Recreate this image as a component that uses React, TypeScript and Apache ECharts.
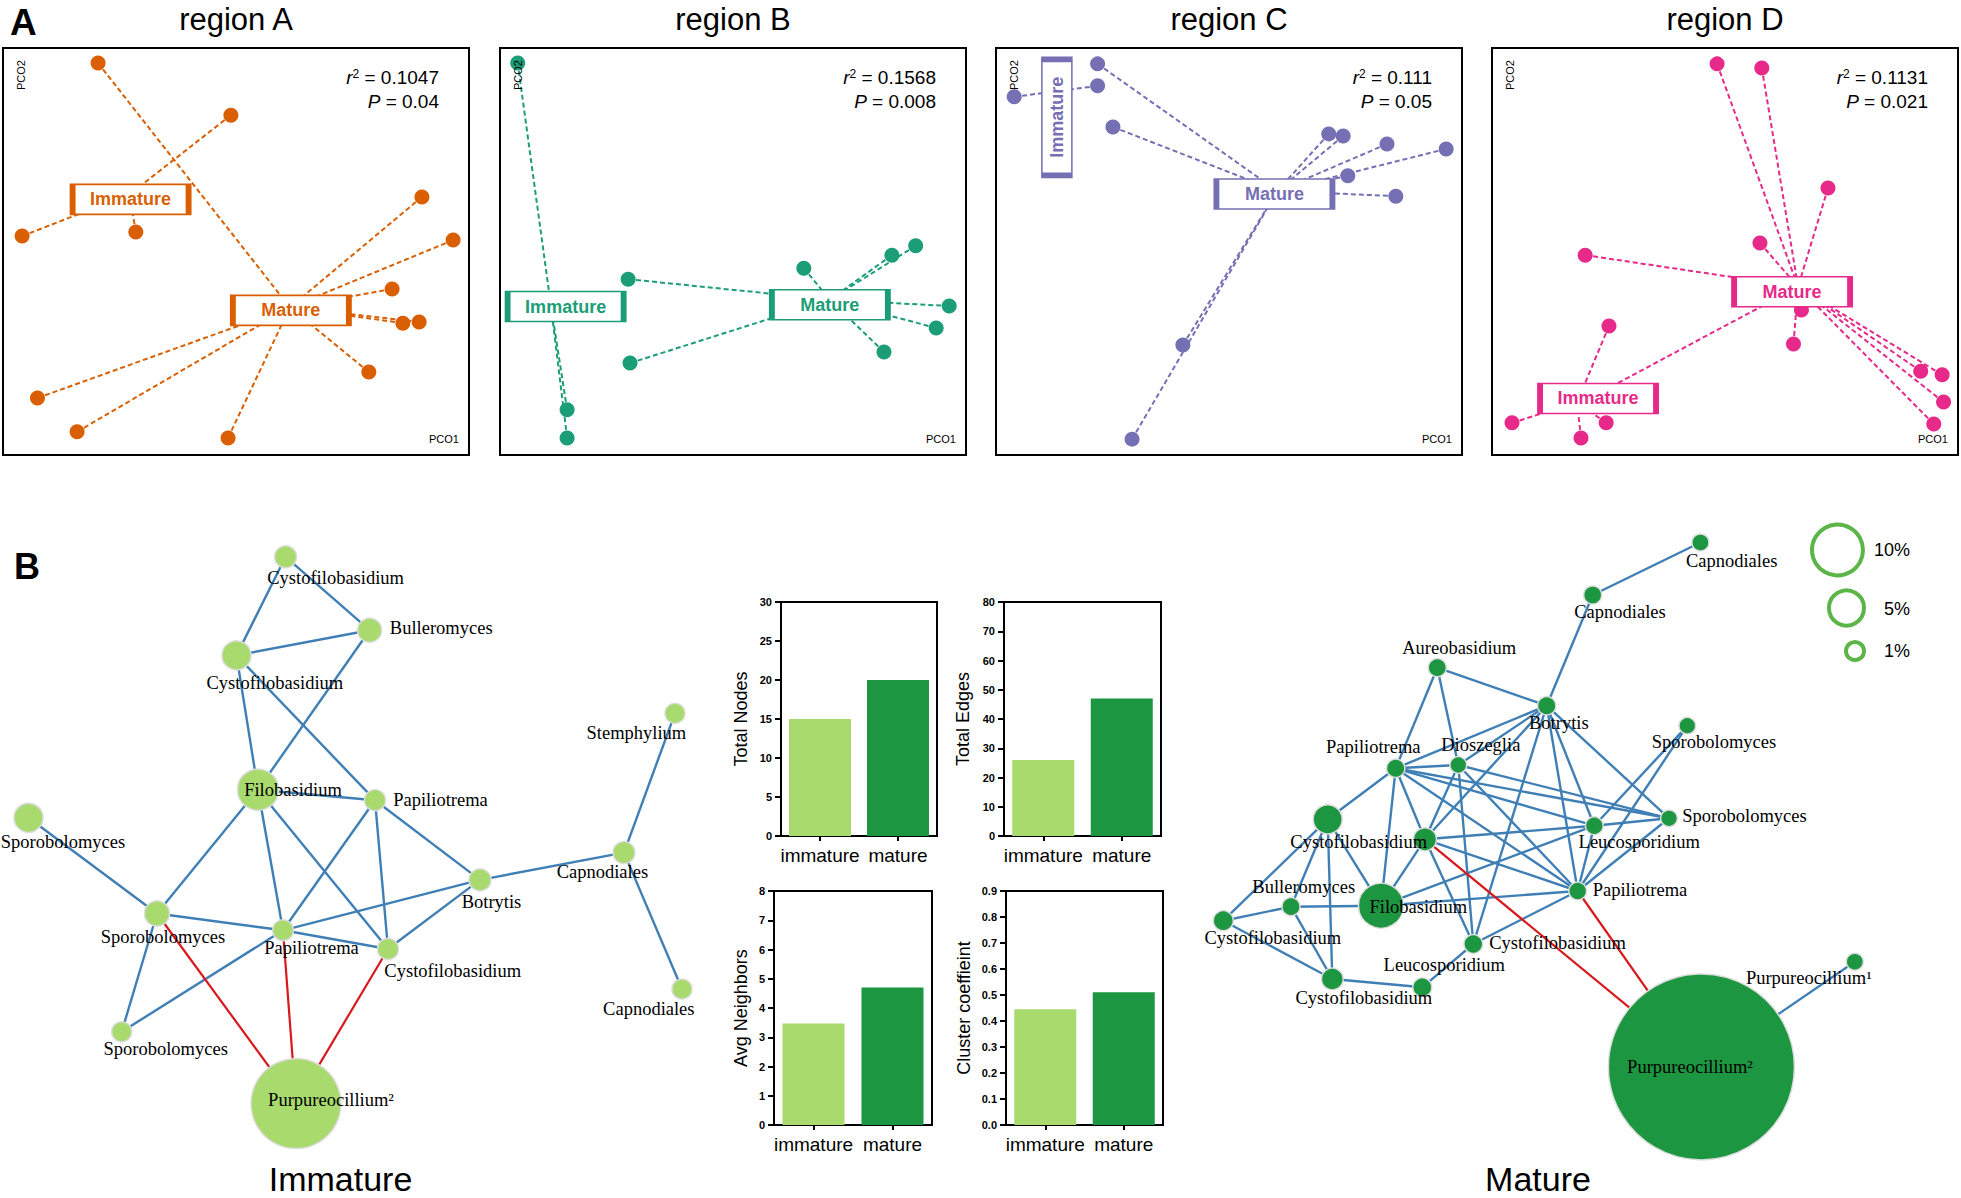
import React, { useEffect, useRef } from "react";
import * as echarts from "echarts";

// ---------------- DATA ----------------
// Panel A: PCoA scores [PCO1, PCO2]
const regionTitles = ["region A", "region B", "region C", "region D"];
const regionR2 = ["0.1047", "0.1568", "0.111", "0.1131"];
const regionP = ["0.04", "0.008", "0.05", "0.021"];

const regionAImmature = [[-0.011, 0.335], [-0.459, 0.038], [-0.215, 0.048]];
const regionAMature = [[-0.296, 0.463], [0.399, 0.134], [0.466, 0.028], [0.335, -0.092], [0.358, -0.176], [0.393, -0.173], [0.285, -0.296], [-0.426, -0.36], [-0.341, -0.443], [-0.017, -0.458]];
const regionBImmature = [[-0.462, 0.463], [-0.356, -0.389], [-0.356, -0.458]];
const regionBMature = [[0.392, 0.014], [0.341, -0.009], [0.152, -0.041], [-0.225, -0.068], [0.464, -0.134], [0.436, -0.188], [0.324, -0.247], [-0.221, -0.274]];
const regionCImmature = [[-0.282, 0.407], [-0.461, 0.38]];
const regionCMature = [[-0.282, 0.461], [-0.249, 0.306], [0.214, 0.289], [0.245, 0.284], [0.339, 0.264], [0.466, 0.252], [0.255, 0.186], [0.358, 0.136], [-0.099, -0.23], [-0.208, -0.461]];
const regionDImmature = [[-0.249, -0.183], [-0.457, -0.421], [-0.255, -0.421], [-0.309, -0.458]];
const regionDMature = [[-0.017, 0.461], [0.079, 0.451], [0.221, 0.156], [0.075, 0.021], [-0.3, -0.009], [0.164, -0.144], [0.147, -0.227], [0.42, -0.294], [0.466, -0.303], [0.469, -0.37], [0.448, -0.424], [-0.29, -0.36]];

// Panel B bar charts
const barCategories = ["immature", "mature"];
const totalNodes = [15, 20];
const totalEdges = [26, 47];
const avgNeighbors = [3.47, 4.7];
const clusterCoef = [0.445, 0.511];

// Panel B networks (layout coordinates, abundance)
const immatureNames = ["Cystofilobasidium", "Bulleromyces", "Cystofilobasidium", "Filobasidium", "Papiliotrema", "Sporobolomyces", "Sporobolomyces", "Papiliotrema", "Cystofilobasidium", "Botrytis", "Capnodiales", "Stemphylium", "Capnodiales", "Sporobolomyces", "Purpureocillium²"];
const immatureLayoutX = [285.6, 369.6, 236.5, 258, 375, 28.5, 157, 283, 388, 480, 624, 675, 682, 121.7, 296];
const immatureLayoutY = [16.8, 90.2, 115.4, 249.7, 260.2, 277.8, 373.5, 390.3, 409, 339.9, 312.6, 173.3, 449, 491.8, 563.6];
const immatureAbundance = [13.4, 16, 23.4, 46.7, 12.3, 23.4, 17.4, 11.9, 12.3, 13.4, 13.4, 11.1, 11.1, 11.1, 225];
const immatureEdges = [[0, 1], [0, 2], [2, 1], [1, 3], [2, 3], [2, 4], [3, 4], [3, 6], [3, 7], [3, 8], [4, 7], [4, 8], [4, 9], [5, 6], [6, 7], [7, 8], [6, 13], [13, 7], [7, 9], [8, 9], [9, 10], [10, 11], [10, 12]];
const immatureNegEdges = [[6, 14], [7, 14], [8, 14]];

const matureNames = ["Capnodiales", "Capnodiales", "Aureobasidium", "Botrytis", "Papiliotrema", "Dioszeglia", "Sporobolomyces", "Cystofilobasidium", "Cystofilobasidium", "Leucosporidium", "Sporobolomyces", "Papiliotrema", "Bulleromyces", "Filobasidium", "Cystofilobasidium", "Cystofilobasidium", "Cystofilobasidium", "Leucosporidium", "Purpureocillium¹", "Purpureocillium²"];
const matureLayoutX = [520.4, 412.7, 257.3, 366.7, 215.7, 278.3, 507.3, 147.7, 245, 414.3, 489, 397.7, 111, 201, 43.3, 293.3, 152.3, 242.3, 674.8, 521.4];
const matureLayoutY = [22.5, 75, 147.7, 185.7, 248.3, 245, 205.7, 299.3, 319.3, 305.7, 298.3, 371, 386.7, 385.7, 400.7, 424, 459, 467.3, 441.8, 546.9];
const matureAbundance = [8, 9, 9, 9.3, 9.3, 7.7, 7.7, 23.4, 14.7, 8.7, 7.7, 8.7, 9, 56.3, 11.1, 9.7, 13.1, 10, 8, 961];
const matureEdges = [[0, 1], [1, 3], [2, 3], [2, 4], [2, 5], [3, 4], [3, 5], [3, 8], [3, 15], [3, 9], [3, 11], [3, 10], [4, 5], [4, 7], [4, 13], [4, 8], [4, 9], [4, 11], [4, 10], [5, 8], [5, 15], [5, 11], [5, 10], [6, 9], [6, 11], [7, 14], [7, 12], [7, 16], [7, 13], [8, 9], [8, 11], [8, 13], [8, 15], [9, 10], [9, 11], [9, 13], [10, 11], [11, 13], [11, 15], [12, 14], [12, 13], [12, 16], [14, 16], [16, 17], [17, 15], [18, 19]];
const matureNegEdges = [[8, 19], [11, 19]];

const legendLabels = ["10%", "5%", "1%"];

// ---------------- STYLE ----------------
const SANS = "'Liberation Sans', Arial, Helvetica, sans-serif";
const SERIF = "'Liberation Serif', 'Times New Roman', serif";
const PCOA_COLORS = ["#D95F02", "#1B9E77", "#7570B3", "#E7298A"];
const PCOA_LEFTS = [3, 500, 996, 1492];
const PCOA_TOP = 48;
const PCOA_W = 466;
const PCOA_H = 407;
const PCOA_BOX = [
  { imm: { offset: [1, 5], vertical: false }, mat: { offset: [1, 3], vertical: false } },
  { imm: { offset: [15, 3], vertical: false }, mat: { offset: [0, 5], vertical: false } },
  { imm: { offset: [1, 26], vertical: true }, mat: { offset: [-3, 3], vertical: false } },
  { imm: { offset: [21, -4], vertical: false }, mat: { offset: [-6, 5], vertical: false } },
];
const LIGHT = "#A8DA6E";
const DARK = "#1D9641";
const EDGE_BLUE = "#3F7FB5";
const EDGE_RED = "#D7191C";
const BAR_GRIDS = [
  [781, 602, 156, 234],
  [1004, 602, 157, 234],
  [774, 891, 158, 234],
  [1006, 891, 157, 234],
];
const BAR_NAME_GAPS = [31, 32, 24.5, 33.5];

const immatureLabelOffsets = [[50, 21], [71.6, -2], [38.3, 27.3], [35, 0], [65.5, 0], [34.5, 24.3], [6, 23], [28.5, 17.6], [64.7, 22], [11.5, 21.8], [-21.6, 19.8], [-38.6, 19.7], [-33.2, 19.7], [44, 17.2], [35, -3.4]];
const matureLabelOffsets: (number[] | null)[] = [[31.2, 18.6], [27.3, 17.1], [21.9, -20], [12.1, 17.6], [-22.4, -21.6], [22.5, -20], [26.7, 16.1], null, [-66.3, 3], [44.9, 16], [75.5, -2.1], [62.3, -1], [12.7, -20], [37.3, 1], [49.5, 17.6], [84.2, -1.3], [31.5, 19.3], [21.9, -22], [-46, 16.5], [-11.4, 0]];

const nodeSize = (a: number) => 6 * Math.sqrt(a);
const centroid = (pts: number[][]) => [
  pts.reduce((s, p) => s + p[0], 0) / pts.length,
  pts.reduce((s, p) => s + p[1], 0) / pts.length,
];

function txt(x: number, y: number, t: string, o: any = {}) {
  const align = o.align || "left";
  const va = o.va || "middle";
  return {
    type: "text",
    x,
    y,
    z: 100,
    silent: true,
    rotation: o.rotation || 0,
    style: {
      text: t,
      fill: o.fill || "#000",
      fontSize: o.size || 14,
      fontWeight: o.weight || "normal",
      fontFamily: o.family || SANS,
      fontStyle: o.italic ? "italic" : "normal",
      align,
      verticalAlign: va,
      textAlign: align,
      textVerticalAlign: va,
      rich: o.rich,
    },
  };
}

function buildOption() {
  const grids: any[] = [];
  const xAxes: any[] = [];
  const yAxes: any[] = [];
  const series: any[] = [];
  const graphic: any[] = [];

  // ---------- Panel A ----------
  const groupsAll = [
    [regionAImmature, regionAMature],
    [regionBImmature, regionBMature],
    [regionCImmature, regionCMature],
    [regionDImmature, regionDMature],
  ];
  PCOA_LEFTS.forEach((left, i) => {
    grids.push({ left, top: PCOA_TOP, width: PCOA_W, height: PCOA_H, show: true, borderColor: "#000", borderWidth: 2, backgroundColor: "transparent" });
    xAxes.push({ gridIndex: i, type: "value", min: -0.5, max: 0.5, show: false });
    yAxes.push({ gridIndex: i, type: "value", min: -0.5, max: 0.5, show: false });
    const color = PCOA_COLORS[i];
    const [imm, mat] = groupsAll[i];
    const groups = [
      { key: "imm", label: "Immature", pts: imm },
      { key: "mat", label: "Mature", pts: mat },
    ];
    groups.forEach((gr) => {
      const c = centroid(gr.pts);
      series.push({
        type: "lines",
        coordinateSystem: "cartesian2d",
        xAxisIndex: i,
        yAxisIndex: i,
        silent: true,
        z: 2,
        lineStyle: { color, width: 2, type: [5, 3], opacity: 1 },
        data: gr.pts.map((p) => ({ coords: [p, c] })),
      });
    });
    series.push({
      type: "scatter",
      xAxisIndex: i,
      yAxisIndex: i,
      symbolSize: 15,
      z: 3,
      silent: true,
      itemStyle: { color, opacity: 1 },
      data: [...imm, ...mat],
    });
    groups.forEach((gr) => {
      const st = (PCOA_BOX[i] as any)[gr.key];
      series.push({
        type: "scatter",
        xAxisIndex: i,
        yAxisIndex: i,
        z: 5,
        silent: true,
        symbol: "rect",
        symbolSize: st.vertical ? [30, 116] : [116, 30],
        symbolOffset: st.offset,
        itemStyle: { color: "#fff", borderColor: color, borderWidth: 3, opacity: 1 },
        label: {
          show: true,
          position: "inside",
          formatter: gr.label,
          color,
          fontSize: 18,
          fontWeight: "bold",
          fontFamily: SANS,
          rotate: st.vertical ? 90 : 0,
        },
        data: [centroid(gr.pts)],
      });
    });

    // texts
    graphic.push(txt(left + PCOA_W / 2, 19, regionTitles[i], { size: 31, align: "center" }));
    graphic.push(
      txt(left + 436, 77, `{i|r}{s|2}{n| = ${regionR2[i]}}`, {
        align: "right",
        size: 19,
        rich: {
          i: { fontStyle: "italic", fontSize: 19, fontFamily: SANS, fill: "#000" },
          s: { fontSize: 12, fontFamily: SANS, verticalAlign: "top", fill: "#000" },
          n: { fontSize: 19, fontFamily: SANS, fill: "#000" },
        },
      })
    );
    graphic.push(
      txt(left + 436, 101, `{i|P}{n| = ${regionP[i]}}`, {
        align: "right",
        size: 19,
        rich: {
          i: { fontStyle: "italic", fontSize: 19, fontFamily: SANS, fill: "#000" },
          n: { fontSize: 19, fontFamily: SANS, fill: "#000" },
        },
      })
    );
    graphic.push(txt(left + 18, 75, "PCO2", { size: 11, align: "center", rotation: Math.PI / 2 }));
    graphic.push(txt(left + 441, 439, "PCO1", { size: 11, align: "center" }));
  });
  graphic.push(txt(10, 22, "A", { size: 37, weight: "bold" }));

  // ---------- Bars ----------
  const metrics = [
    { name: "Total Nodes", values: totalNodes, max: 30, interval: 5, dec: 0 },
    { name: "Total Edges", values: totalEdges, max: 80, interval: 10, dec: 0 },
    { name: "Avg Neighbors", values: avgNeighbors, max: 8, interval: 1, dec: 0 },
    { name: "Cluster coeffieint", values: clusterCoef, max: 0.9, interval: 0.1, dec: 1 },
  ];
  metrics.forEach((m, j) => {
    const gi = 4 + j;
    const [l, t, w, h] = BAR_GRIDS[j];
    grids.push({ left: l, top: t, width: w, height: h, show: true, borderColor: "#000", borderWidth: 2, backgroundColor: "transparent" });
    xAxes.push({
      gridIndex: gi,
      type: "category",
      data: barCategories,
      axisLine: { show: true, lineStyle: { color: "#000", width: 2 } },
      axisTick: { show: true, alignWithLabel: true, length: 5, lineStyle: { color: "#000", width: 2 } },
      axisLabel: { color: "#000", fontSize: 19, fontFamily: SANS, margin: 10, interval: 0, hideOverlap: false },
      splitLine: { show: false },
    });
    yAxes.push({
      gridIndex: gi,
      type: "value",
      min: 0,
      max: m.max,
      interval: m.interval,
      name: m.name,
      nameLocation: "middle",
      nameRotate: 90,
      nameGap: BAR_NAME_GAPS[j],
      nameTextStyle: { color: "#000", fontSize: 18, fontFamily: SANS },
      axisLine: { show: true, lineStyle: { color: "#000", width: 2 } },
      axisTick: { show: true, length: 6, lineStyle: { color: "#000", width: 2 } },
      axisLabel: {
        color: "#000",
        fontSize: 11,
        fontWeight: "bold",
        fontFamily: SANS,
        margin: 9,
        formatter: (v: number) => v.toFixed(m.dec),
      },
      splitLine: { show: false },
    });
    series.push({
      type: "bar",
      xAxisIndex: gi,
      yAxisIndex: gi,
      barWidth: 62,
      silent: true,
      data: m.values.map((v, k) => ({ value: v, itemStyle: { color: k === 0 ? LIGHT : DARK } })),
    });
  });

  // ---------- Networks ----------
  const nets = [
    {
      gi: 8, grid: [0, 540, 720, 658], prefix: "im", names: immatureNames, xs: immatureLayoutX, ys: immatureLayoutY,
      ab: immatureAbundance, edges: immatureEdges, neg: immatureNegEdges, offsets: immatureLabelOffsets as (number[] | null)[], color: LIGHT,
    },
    {
      gi: 9, grid: [1180, 520, 781, 678], prefix: "ma", names: matureNames, xs: matureLayoutX, ys: matureLayoutY,
      ab: matureAbundance, edges: matureEdges, neg: matureNegEdges, offsets: matureLabelOffsets, color: DARK,
    },
  ];
  nets.forEach((n) => {
    const [l, t, w, h] = n.grid;
    grids.push({ left: l, top: t, width: w, height: h, show: false });
    xAxes.push({ gridIndex: n.gi, type: "value", min: 0, max: w, show: false });
    yAxes.push({ gridIndex: n.gi, type: "value", min: 0, max: h, inverse: true, show: false });
    series.push({
      type: "graph",
      coordinateSystem: "cartesian2d",
      xAxisIndex: n.gi,
      yAxisIndex: n.gi,
      layout: "none",
      silent: true,
      roam: false,
      z: 3,
      symbol: "circle",
      emphasis: { disabled: true },
      lineStyle: { color: EDGE_BLUE, width: 2.4, opacity: 1, curveness: 0 },
      label: { show: true },
      data: n.names.map((name, k) => {
        const off = n.offsets[k];
        return {
          id: n.prefix + k,
          name,
          value: [n.xs[k], n.ys[k]],
          symbolSize: nodeSize(n.ab[k]),
          itemStyle: { color: n.color, borderColor: "#dcdcdc", borderWidth: 1.5, opacity: 1 },
          label: off
            ? { show: true, position: "inside", offset: off, color: "#000", fontSize: 18.5, fontFamily: SERIF, formatter: name }
            : { show: false },
        };
      }),
      links: [
        ...n.edges.map(([s, tt]) => ({ source: n.prefix + s, target: n.prefix + tt })),
        ...n.neg.map(([s, tt]) => ({ source: n.prefix + s, target: n.prefix + tt, lineStyle: { color: EDGE_RED, width: 2.2 } })),
      ],
    });
  });

  graphic.push(txt(14, 566, "B", { size: 36, weight: "bold" }));
  graphic.push(txt(340.5, 1179, "Immature", { size: 34, align: "center" }));
  graphic.push(txt(1538, 1179, "Mature", { size: 34, align: "center" }));

  // size legend
  const legendCircles = [
    [1837.5, 550, 25.5, 550],
    [1846.5, 608, 17.5, 609],
    [1855, 651, 9, 651],
  ];
  legendCircles.forEach(([cx, cy, r, ty], k) => {
    graphic.push({
      type: "circle",
      silent: true,
      z: 100,
      shape: { cx, cy, r },
      style: { fill: "none", stroke: "#5BB548", lineWidth: 4 },
    });
    graphic.push(txt(1910, ty, legendLabels[k], { size: 18, align: "right" }));
  });

  return {
    animation: false,
    backgroundColor: "#fff",
    grid: grids,
    xAxis: xAxes,
    yAxis: yAxes,
    series,
    graphic: { elements: graphic },
  };
}

export default function App() {
  const ref = useRef<HTMLDivElement>(null);
  useEffect(() => {
    if (!ref.current) return;
    const chart = echarts.init(ref.current, null, { renderer: "svg" });
    chart.setOption(buildOption() as any);
    return () => chart.dispose();
  }, []);
  return (
    <div
      ref={ref}
      style={{ position: "absolute", left: 0, top: 0, width: 1961, height: 1198, background: "#fff" }}
    />
  );
}
